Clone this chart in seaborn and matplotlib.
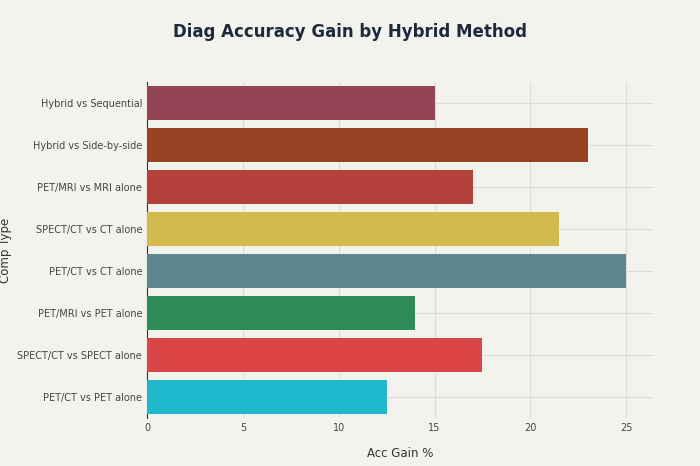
import matplotlib.pyplot as plt
import seaborn as sns
import pandas as pd

comparisons = ["Hybrid vs Sequential", "Hybrid vs Side-by-side", "PET/MRI vs MRI alone",
               "SPECT/CT vs CT alone", "PET/CT vs CT alone", "PET/MRI vs PET alone",
               "SPECT/CT vs SPECT alone", "PET/CT vs PET alone"]
gains = [15, 23, 17, 21.5, 25, 14, 17.5, 12.5]
colors = ["#944454", "#964325", "#B4413C", "#D2BA4C", "#5D878F", "#2E8B57", "#DB4545", "#1FB8CD"]

df = pd.DataFrame({"Comp Type": comparisons, "Acc Gain %": gains})

bg = "#f3f3ee"
fig = plt.figure(figsize=(7, 4.66), dpi=100, facecolor=bg)
ax = fig.add_axes([0.21, 0.103, 0.723, 0.721], facecolor=bg)
sns.barplot(data=df, x="Acc Gain %", y="Comp Type", hue="Comp Type", palette=colors,
            saturation=1, legend=False, width=0.8, ax=ax, zorder=3)

ax.set_xlim(0, 26.4)
ax.set_xticks([0, 5, 10, 15, 20, 25])
ax.grid(True, color="#dcdcd8", linewidth=0.8, zorder=0)
ax.set_axisbelow(True)
for s in ["top", "right", "bottom"]:
    ax.spines[s].set_visible(False)
ax.spines["left"].set_color("#333333")
ax.tick_params(length=0, labelsize=7, colors="#444444")
ax.set_xlabel("Acc Gain %", fontsize=8.5, color="#333333", labelpad=10)
ax.set_ylabel("Comp Type", fontsize=8.5, color="#333333")
fig.suptitle("Diag Accuracy Gain by Hybrid Method", fontsize=12, fontweight="semibold",
             color="#1e2a3a", y=0.95)

fig.savefig("out.png", dpi=100, facecolor=bg)
